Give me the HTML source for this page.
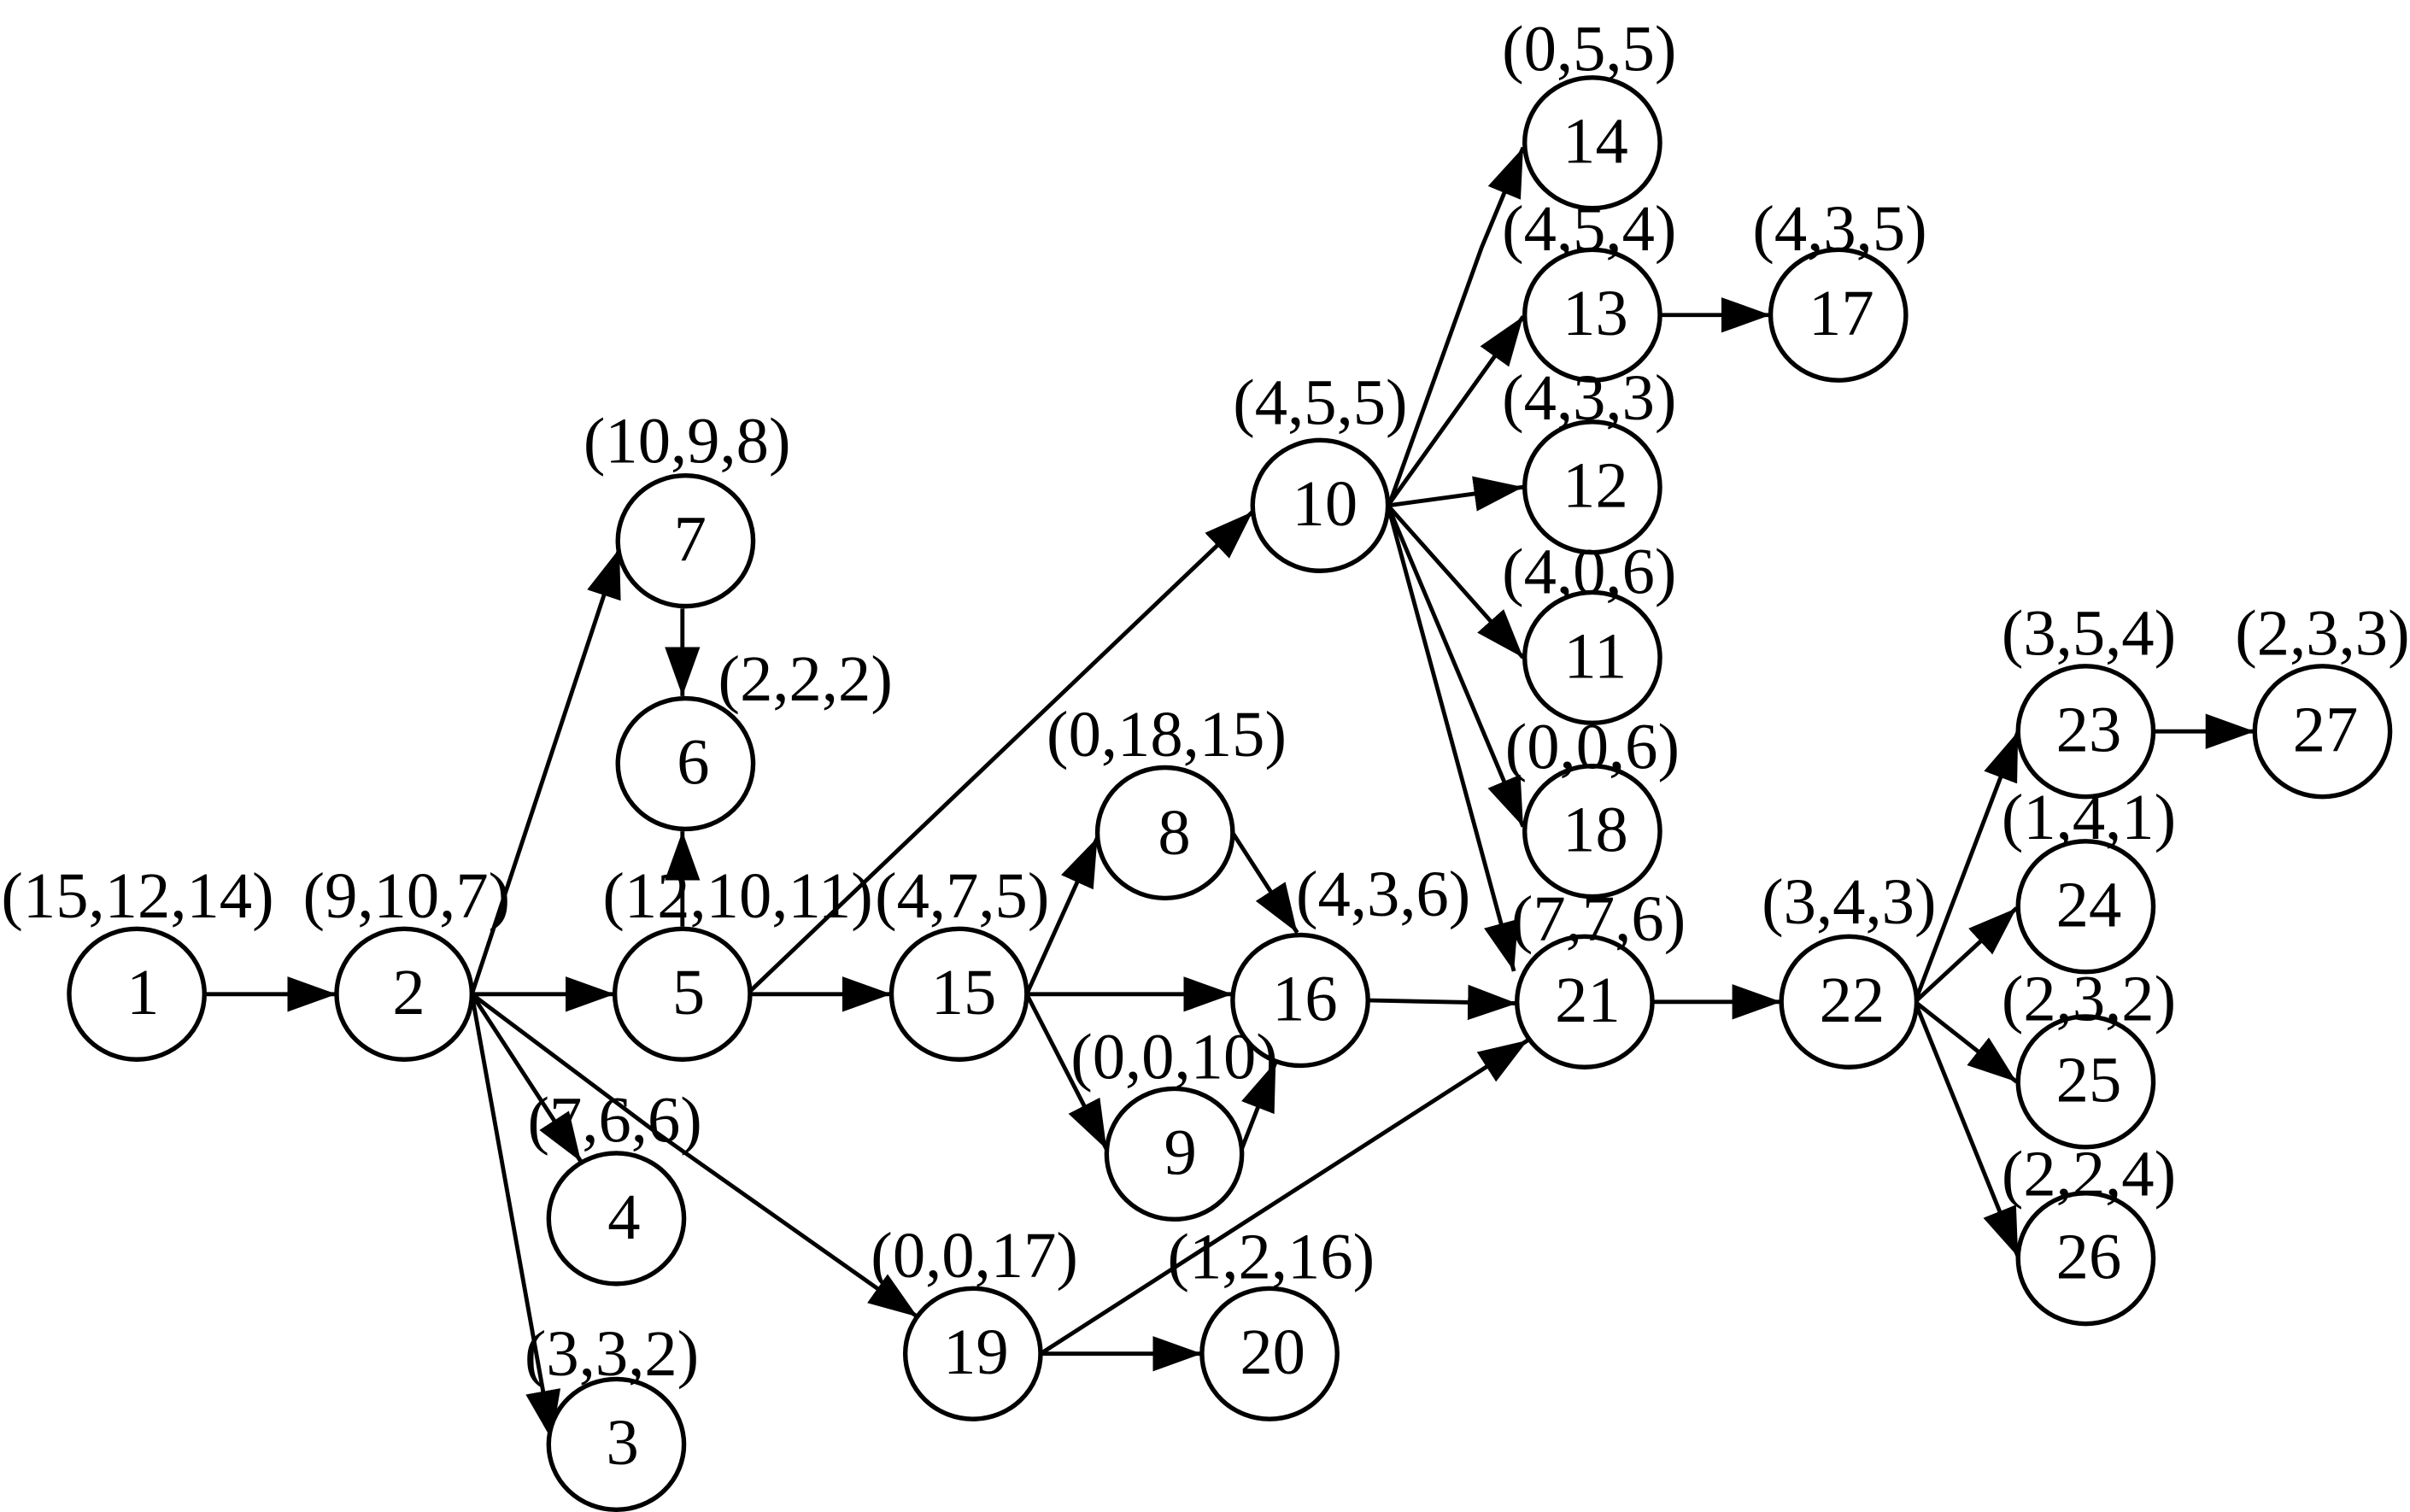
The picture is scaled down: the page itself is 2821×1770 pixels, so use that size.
<!DOCTYPE html>
<html><head><meta charset="utf-8"><style>
html,body{margin:0;padding:0;background:#fff;width:2821px;height:1770px;overflow:hidden}
svg{display:block}
text{font-family:"Liberation Serif",serif;font-size:42.6px;fill:#000;text-anchor:middle}
line,.e{stroke:#000;stroke-width:2.7;fill:none}
ellipse{fill:#fff;stroke:#000;stroke-width:3}
</style></head><body>
<svg width="2821" height="1770" viewBox="0 0 1568 984" preserveAspectRatio="none" xmlns="http://www.w3.org/2000/svg">
<defs><marker id="a" markerUnits="userSpaceOnUse" markerWidth="33" markerHeight="24" refX="32" refY="11.5" orient="auto"><path d="M0 0L32 11.5L0 23Z" fill="#000"/></marker></defs>
<rect width="1568" height="984" fill="#fff"/>
<g>
<line x1="133" y1="647" x2="219" y2="647" marker-end="url(#a)"/>
<line x1="307" y1="647" x2="400" y2="647" marker-end="url(#a)"/>
<line x1="307" y1="647" x2="403" y2="357" marker-end="url(#a)"/>
<line x1="444" y1="396" x2="444" y2="453" marker-end="url(#a)"/>
<line x1="444" y1="603" x2="444" y2="541" marker-end="url(#a)"/>
<line x1="307" y1="647" x2="378" y2="756" marker-end="url(#a)"/>
<line x1="307" y1="647" x2="359" y2="937" marker-end="url(#a)"/>
<path class="e" d="M307 647L427 737L597 857" marker-end="url(#a)"/>
<line x1="486" y1="647" x2="815" y2="333" marker-end="url(#a)"/>
<line x1="486" y1="647" x2="580" y2="647" marker-end="url(#a)"/>
<line x1="668" y1="647" x2="714" y2="545" marker-end="url(#a)"/>
<line x1="668" y1="647" x2="802" y2="647" marker-end="url(#a)"/>
<line x1="668" y1="647" x2="720" y2="748" marker-end="url(#a)"/>
<line x1="802" y1="542" x2="844" y2="607" marker-end="url(#a)"/>
<line x1="807" y1="750" x2="830" y2="691" marker-end="url(#a)"/>
<line x1="890" y1="651" x2="987" y2="653" marker-end="url(#a)"/>
<line x1="677" y1="881" x2="994" y2="677" marker-end="url(#a)"/>
<line x1="677" y1="881" x2="782" y2="881" marker-end="url(#a)"/>
<path class="e" d="M904 328L964 161L991 96" marker-end="url(#a)"/>
<line x1="903" y1="329" x2="991" y2="206" marker-end="url(#a)"/>
<line x1="903" y1="329" x2="991" y2="317" marker-end="url(#a)"/>
<line x1="903" y1="329" x2="991" y2="428" marker-end="url(#a)"/>
<line x1="903" y1="329" x2="991" y2="538" marker-end="url(#a)"/>
<line x1="903" y1="329" x2="985" y2="632" marker-end="url(#a)"/>
<line x1="1080" y1="205" x2="1152" y2="205" marker-end="url(#a)"/>
<line x1="1075" y1="652" x2="1159" y2="652" marker-end="url(#a)"/>
<line x1="1246" y1="652" x2="1313" y2="476" marker-end="url(#a)"/>
<line x1="1246" y1="652" x2="1312" y2="591" marker-end="url(#a)"/>
<line x1="1246" y1="652" x2="1312" y2="704" marker-end="url(#a)"/>
<line x1="1246" y1="652" x2="1313" y2="818" marker-end="url(#a)"/>
<line x1="1401" y1="476" x2="1467" y2="476" marker-end="url(#a)"/>
</g>
<g>
<ellipse cx="89" cy="647" rx="44" ry="42.5"/><ellipse cx="263" cy="647" rx="44" ry="42.5"/><ellipse cx="444" cy="647" rx="44" ry="42.5"/><ellipse cx="624" cy="647" rx="44" ry="42.5"/><ellipse cx="846" cy="651" rx="44" ry="42.5"/><ellipse cx="1031" cy="652" rx="44" ry="42.5"/><ellipse cx="1203" cy="652" rx="44" ry="42.5"/><ellipse cx="446" cy="352" rx="44" ry="42.5"/><ellipse cx="446" cy="497" rx="44" ry="42.5"/><ellipse cx="401" cy="793" rx="44" ry="42.5"/><ellipse cx="401" cy="940" rx="44" ry="42.5"/><ellipse cx="633" cy="881" rx="44" ry="42.5"/><ellipse cx="826" cy="881" rx="44" ry="42.5"/><ellipse cx="764" cy="751" rx="44" ry="42.5"/><ellipse cx="758" cy="542" rx="44" ry="42.5"/><ellipse cx="859" cy="329" rx="44" ry="42.5"/><ellipse cx="1036" cy="93" rx="44" ry="42.5"/><ellipse cx="1036" cy="205" rx="44" ry="42.5"/><ellipse cx="1196" cy="205" rx="44" ry="42.5"/><ellipse cx="1036" cy="317" rx="44" ry="42.5"/><ellipse cx="1036" cy="428" rx="44" ry="42.5"/><ellipse cx="1036" cy="541" rx="44" ry="42.5"/><ellipse cx="1357" cy="476" rx="44" ry="42.5"/><ellipse cx="1511" cy="476" rx="44" ry="42.5"/><ellipse cx="1357" cy="590" rx="44" ry="42.5"/><ellipse cx="1357" cy="704" rx="44" ry="42.5"/><ellipse cx="1357" cy="819" rx="44" ry="42.5"/>
</g>
<g>
<text x="93" y="660">1</text><text x="266" y="660">2</text><text x="448" y="660">5</text><text x="627" y="660">15</text><text x="849" y="664">16</text><text x="1033" y="665">21</text><text x="1205" y="665">22</text><text x="449" y="365">7</text><text x="451" y="510">6</text><text x="406" y="806">4</text><text x="405" y="953">3</text><text x="635" y="894">19</text><text x="828" y="894">20</text><text x="768" y="764">9</text><text x="764" y="556">8</text><text x="862" y="342">10</text><text x="1038" y="106">14</text><text x="1038" y="218">13</text><text x="1198" y="218">17</text><text x="1038" y="330">12</text><text x="1038" y="441">11</text><text x="1038" y="554">18</text><text x="1359" y="489">23</text><text x="1513" y="489">27</text><text x="1359" y="603">24</text><text x="1359" y="717">25</text><text x="1359" y="832">26</text>
</g>
<g>
<text x="89.5" y="597">(15,12,14)</text><text x="264.5" y="597">(9,10,7)</text><text x="480" y="597">(12,10,11)</text><text x="626" y="597">(4,7,5)</text><text x="400" y="743">(7,6,6)</text><text x="398" y="895">(3,3,2)</text><text x="447" y="301">(10,9,8)</text><text x="524" y="456">(2,2,2)</text><text x="759" y="492">(0,18,15)</text><text x="900" y="596">(4,3,6)</text><text x="764" y="702">(0,0,10)</text><text x="634" y="831">(0,0,17)</text><text x="827" y="832">(1,2,16)</text><text x="859" y="276">(4,5,5)</text><text x="1034" y="46">(0,5,5)</text><text x="1034" y="163">(4,5,4)</text><text x="1197" y="163">(4,3,5)</text><text x="1034" y="273">(4,3,3)</text><text x="1034" y="386">(4,0,6)</text><text x="1036" y="500">(0,0,6)</text><text x="1040" y="612">(7,7,6)</text><text x="1203" y="601">(3,4,3)</text><text x="1359" y="426">(3,5,4)</text><text x="1511" y="426">(2,3,3)</text><text x="1359" y="546">(1,4,1)</text><text x="1359" y="664">(2,3,2)</text><text x="1359" y="778">(2,2,4)</text>
</g>
</svg>
</body></html>
